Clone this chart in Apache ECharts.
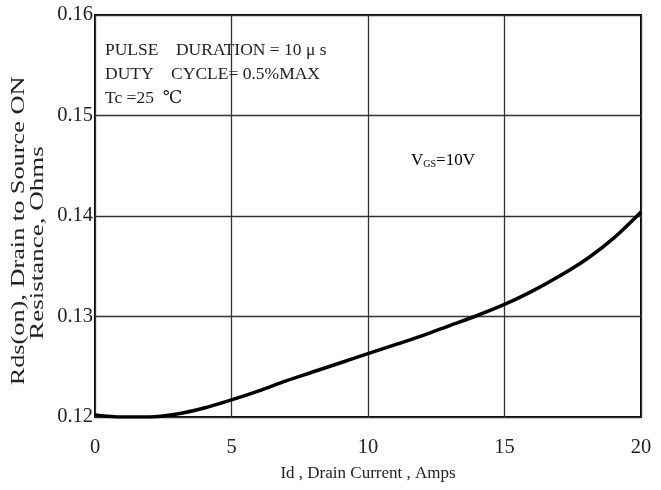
<!DOCTYPE html>
<html><head><meta charset="utf-8">
<script src="https://cdn.jsdelivr.net/npm/echarts@6/dist/echarts.min.js"></script>
<style>html,body{margin:0;padding:0;background:#fff}#c{width:661px;height:490px}</style>
</head><body><div id="c"></div>
<script>
const xTicks = [0, 5, 10, 15, 20];
const yTicks = [0.12, 0.13, 0.14, 0.15, 0.16];
const idValues = [0, 1, 2, 3, 4, 5, 6, 7, 8, 9, 10, 11, 12, 13, 14, 15, 16, 17, 18, 19, 20];
const rdsValues = [0.1202, 0.1200, 0.1200, 0.1203, 0.1209, 0.1217, 0.1226, 0.1236, 0.1245, 0.1254, 0.1263, 0.1272, 0.1281, 0.1291, 0.1301, 0.1312, 0.1325, 0.1340, 0.1357, 0.1378, 0.1404];
const notes = ['PULSE    DURATION = 10 \u03bc s', 'DUTY    CYCLE= 0.5%MAX', 'Tc =25  \u2103'];
const yNameLines = ['Rds(on), Drain to Source ON', 'Resistance, Ohms'];

const F = '"Liberation Serif","DejaVu Serif",serif';
const chart = echarts.init(document.getElementById('c'));
chart.setOption({
  animation: false,
  grid: {left: 95, right: 20, top: 15, bottom: 73, show: true, borderColor: '#000', borderWidth: 2, outerBoundsMode: 'none', containLabel: false},
  xAxis: {
    type: 'value', min: 0, max: 20, interval: 5,
    name: 'Id , Drain Current , Amps', nameLocation: 'middle', nameGap: 48,
    nameTextStyle: {fontFamily: F, fontSize: 17, color: '#222'},
    axisLine: {show: false}, axisTick: {show: false},
    axisLabel: {fontFamily: F, fontSize: 20.5, color: '#222', margin: 20},
    splitLine: {lineStyle: {color: '#333', width: 1.3}}
  },
  yAxis: {
    type: 'value', min: 0.12, max: 0.16, interval: 0.01,
    axisLine: {show: false}, axisTick: {show: false},
    axisLabel: {fontFamily: F, fontSize: 20.5, color: '#222', margin: 2, formatter: v => v.toFixed(2)},
    splitLine: {lineStyle: {color: '#333', width: 1.3}}
  },
  graphic: [
    {type: 'text', x: 19, y: 231, rotation: Math.PI / 2, scaleX: 1.46,
     style: {text: yNameLines[0], font: '18px ' + F, fill: '#222', textAlign: 'center', textVerticalAlign: 'middle'}},
    {type: 'text', x: 38, y: 243, rotation: Math.PI / 2, scaleX: 1.5,
     style: {text: yNameLines[1], font: '18px ' + F, fill: '#222', textAlign: 'center', textVerticalAlign: 'middle'}},
    {type: 'text', left: 105, top: 38, style: {text: notes.join('\n'), font: '17.5px ' + F, fill: '#222', lineHeight: 24}},
    {type: 'text', left: 411, top: 152, style: {
      text: '{a|V}{b|GS}{a|=10V}',
      rich: {a: {fontFamily: F, fontSize: 17, color: '#222'}, b: {fontFamily: F, fontSize: 10, color: '#222', padding: [8, 0, 0, 0]}}
    }}
  ],
  series: [{
    type: 'line', smooth: 0.3, symbol: 'none',
    data: idValues.map((x, i) => [x, rdsValues[i]]),
    lineStyle: {color: '#000', width: 3.5}
  }]
});
</script></body></html>
